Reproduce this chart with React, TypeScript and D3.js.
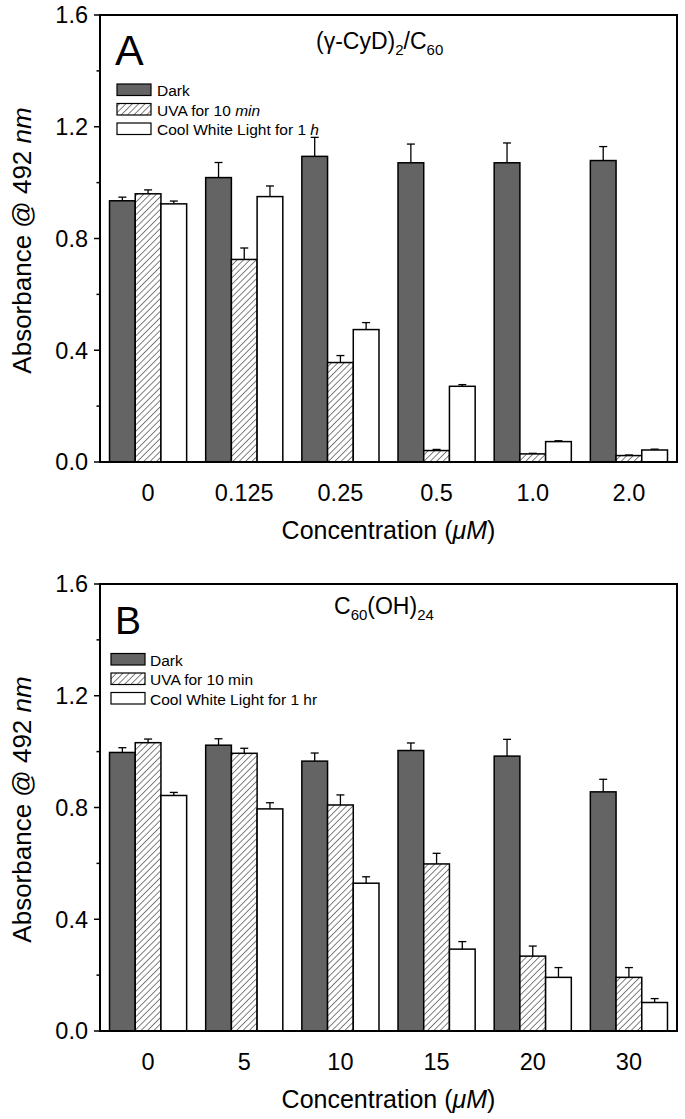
import React from "react";
import * as d3 from "d3";

const seriesKeys = ["Dark", "UVA", "White"];

const categoriesA = ["0", "0.125", "0.25", "0.5", "1.0", "2.0"];
const darkA = [0.935, 1.018, 1.094, 1.071, 1.071, 1.079];
const darkErrA = [0.013, 0.054, 0.068, 0.067, 0.071, 0.05];
const uvaA = [0.96, 0.725, 0.356, 0.041, 0.029, 0.023];
const uvaErrA = [0.014, 0.041, 0.025, 0.004, 0.002, 0.002];
const whiteA = [0.924, 0.95, 0.474, 0.271, 0.073, 0.043];
const whiteErrA = [0.01, 0.038, 0.025, 0.006, 0.003, 0.003];

const categoriesB = ["0", "5", "10", "15", "20", "30"];
const darkB = [0.997, 1.023, 0.966, 1.004, 0.984, 0.856];
const darkErrB = [0.017, 0.023, 0.029, 0.027, 0.06, 0.045];
const uvaB = [1.032, 0.994, 0.809, 0.598, 0.268, 0.192];
const uvaErrB = [0.013, 0.018, 0.036, 0.038, 0.036, 0.035];
const whiteB = [0.843, 0.795, 0.529, 0.293, 0.192, 0.102];
const whiteErrB = [0.011, 0.022, 0.023, 0.027, 0.035, 0.014];

const yMajorTicks = [0, 0.4, 0.8, 1.2, 1.6];
const yMinorTicks = [0.2, 0.6, 1.0, 1.4];

const legendA = ["Dark", "UVA for 10 ", "Cool White Light for 1 "];
const legendItalicA = ["", "min", "h"];
const legendB = ["Dark", "UVA for 10 min", "Cool White Light for 1 hr"];

const FONT = "'Liberation Sans', Arial, Helvetica, sans-serif";
const DARK = "#646464";

type PanelProps = {
  top: number;
  letter: string;
  letterSize: number;
  categories: string[];
  values: number[][];
  errors: number[][];
  title: React.ReactNode;
  legend: React.ReactNode;
};

function Panel({ top, letter, letterSize, categories, values, errors, title, legend }: PanelProps) {
  const left = 100;
  const right = 677;
  const plotTop = top;
  const plotBottom = top + 447;
  const x = d3.scaleBand<string>().domain(categories).range([left, right]).padding(0);
  const inner = d3
    .scaleBand<string>()
    .domain(seriesKeys)
    .range([0, x.bandwidth()])
    .paddingInner(0)
    .paddingOuter(0.37);
  const y = d3.scaleLinear().domain([0, 1.6]).range([plotBottom, plotTop]);
  const fills = [DARK, "url(#hatch)", "#ffffff"];

  return (
    <g>
      {categories.map((c, i) => (
        <g key={c}>
          {seriesKeys.map((s, k) => {
            const v = values[k][i];
            const e = errors[k][i];
            const bx = (x(c) as number) + (inner(s) as number);
            const bw = inner.bandwidth();
            const cx = bx + bw / 2;
            return (
              <g key={s}>
                <line x1={cx} x2={cx} y1={y(v)} y2={y(v + e)} stroke="#000" strokeWidth={1.3} />
                <line x1={cx - 4} x2={cx + 4} y1={y(v + e)} y2={y(v + e)} stroke="#000" strokeWidth={1.3} />
                <rect
                  x={bx}
                  y={y(v)}
                  width={bw}
                  height={plotBottom - y(v)}
                  fill={fills[k]}
                  stroke="#000"
                  strokeWidth={1.5}
                />
              </g>
            );
          })}
        </g>
      ))}
      <rect
        x={left}
        y={plotTop}
        width={right - left}
        height={plotBottom - plotTop}
        fill="none"
        stroke="#000"
        strokeWidth={2}
      />
      {yMajorTicks.map((t) => (
        <g key={"M" + t}>
          <line x1={left - 6} x2={left} y1={y(t)} y2={y(t)} stroke="#000" strokeWidth={1.5} />
          <text
            x={left - 12}
            y={y(t)}
            dy="0.36em"
            textAnchor="end"
            fontSize={23.5}
            fontFamily={FONT}
          >
            {d3.format(".1f")(t)}
          </text>
        </g>
      ))}
      {yMinorTicks.map((t) => (
        <line key={"m" + t} x1={left - 3.5} x2={left} y1={y(t)} y2={y(t)} stroke="#000" strokeWidth={1.5} />
      ))}
      {categories.map((c) => (
        <text
          key={"xl" + c}
          x={(x(c) as number) + x.bandwidth() / 2}
          y={plotBottom + 39}
          textAnchor="middle"
          fontSize={23.5}
          fontFamily={FONT}
        >
          {c}
        </text>
      ))}
      <text
        x={(left + right) / 2}
        y={plotBottom + 77}
        textAnchor="middle"
        fontSize={25}
        fontFamily={FONT}
      >
        Concentration (<tspan fontStyle="italic">μM</tspan>)
      </text>
      <text
        transform={`translate(31,${(plotTop + plotBottom) / 2 + 2}) rotate(-90)`}
        textAnchor="middle"
        fontSize={26}
        fontFamily={FONT}
      >
        Absorbance @ 492 <tspan fontStyle="italic">nm</tspan>
      </text>
      <text x={115} y={top + 50} fontSize={letterSize} fontFamily={FONT}>
        {letter}
      </text>
      {title}
      {legend}
    </g>
  );
}

function LegendRows({
  x0,
  y0,
  textX,
  labels,
  italics,
}: {
  x0: number;
  y0: number;
  textX: number;
  labels: string[];
  italics: string[];
}) {
  const fills = [DARK, "url(#hatch)", "#ffffff"];
  return (
    <g>
      {labels.map((l, k) => (
        <g key={k}>
          <rect x={x0} y={y0 + k * 19.5} width={34} height={11.5} fill={fills[k]} stroke="#000" strokeWidth={1.2} />
          <text x={textX} y={y0 + k * 19.5 + 12} fontSize={15.5} fontFamily={FONT}>
            {l}
            {italics[k] ? <tspan fontStyle="italic">{italics[k]}</tspan> : null}
          </text>
        </g>
      ))}
    </g>
  );
}

export default function App() {
  return (
    <svg
      width={685}
      height={1119}
      viewBox="0 0 685 1119"
      style={{ position: "absolute", left: 0, top: 0, background: "#fff" }}
    >
      <defs>
        <pattern id="hatch" patternUnits="userSpaceOnUse" width={4.5} height={4.5} patternTransform="rotate(45)">
          <rect width={4.5} height={4.5} fill="#fff" />
          <line x1={0} y1={0} x2={0} y2={4.5} stroke="#000" strokeWidth={1} />
        </pattern>
      </defs>
      <rect width={685} height={1119} fill="#fff" />
      <Panel
        top={15}
        letter="A"
        letterSize={43}
        categories={categoriesA}
        values={[darkA, uvaA, whiteA]}
        errors={[darkErrA, uvaErrA, whiteErrA]}
        title={
          <text x={316} y={49} fontSize={23} fontFamily={FONT}>
            (γ-CyD)
            <tspan dy={6} fontSize={15}>2</tspan>
            <tspan dy={-6}>/C</tspan>
            <tspan dy={6} fontSize={15}>60</tspan>
          </text>
        }
        legend={
          <LegendRows x0={117} y0={84} textX={157} labels={legendA} italics={legendItalicA} />
        }
      />
      <Panel
        top={584}
        letter="B"
        letterSize={39}
        categories={categoriesB}
        values={[darkB, uvaB, whiteB]}
        errors={[darkErrB, uvaErrB, whiteErrB]}
        title={
          <text x={334} y={614} fontSize={23} fontFamily={FONT}>
            C<tspan dy={6} fontSize={15}>60</tspan>
            <tspan dy={-6}>(OH)</tspan>
            <tspan dy={6} fontSize={15}>24</tspan>
          </text>
        }
        legend={
          <LegendRows x0={111} y0={653.5} textX={150} labels={legendB} italics={["", "", ""]} />
        }
      />
    </svg>
  );
}
